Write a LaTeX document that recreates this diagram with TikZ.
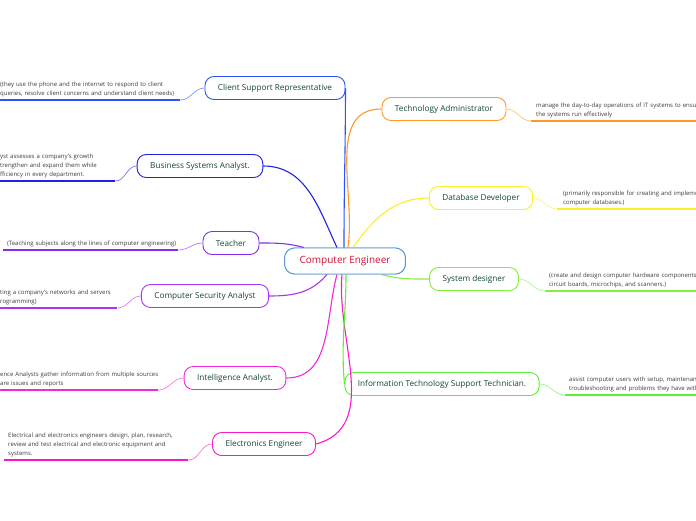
\documentclass[tikz,border=0pt]{standalone}
\usepackage{fontspec}
\setmainfont{Open Sans}
\usepackage{xcolor}
\definecolor{inkgreen}{RGB}{20,72,52}
\definecolor{rootred}{RGB}{212,20,52}
\definecolor{rootblue}{RGB}{84,152,212}
\definecolor{clientc}{RGB}{44,84,250}
\definecolor{bsac}{RGB}{32,32,232}
\definecolor{teachc}{RGB}{132,44,240}
\definecolor{secc}{RGB}{172,52,240}
\definecolor{intelc}{RGB}{240,40,222}
\definecolor{elecc}{RGB}{250,24,204}
\definecolor{adminc}{RGB}{255,152,40}
\definecolor{dbc}{RGB}{250,240,40}
\definecolor{sysc}{RGB}{132,240,60}
\definecolor{itsc}{RGB}{92,240,52}
\definecolor{notegray}{RGB}{60,60,60}
\usetikzlibrary{positioning, calc}

\begin{document}
\begin{tikzpicture}[x=1pt, y=-1pt,
  root/.style={draw=rootblue, line width=0.9pt, rounded corners=10pt, fill=white,
               minimum height=26pt, inner xsep=15pt, text=rootred,
               font=\fontsize{10}{12}\selectfont},
  role/.style={draw=#1, line width=0.9pt, rounded corners=9pt, fill=white,
               minimum height=23pt, inner xsep=13pt, text=inkgreen,
               font=\fontsize{8.2}{10}\selectfont},
  note/.style={align=left, text=notegray, inner xsep=2pt, inner ysep=3pt,
               font=\fontsize{6}{8.8}\selectfont},
  branch/.style={draw=#1, line width=1.1pt},
  under/.style={draw=#1, line width=1.8pt},
  twig/.style={draw=#1!60, line width=0.7pt},
]
  \useasboundingbox (0,0) rectangle (696,520);
  \clip (0,0) rectangle (696,520);

  % centre and roles
  \node[root] (engineer) at (345,261) {Computer Engineer};

  \node[role=clientc] (client) at (275,88) {Client Support Representative};
  \node[role=bsac] (bsa) at (200,166) {Business Systems Analyst.};
  \node[role=teachc] (teacher) at (231,243) {Teacher};
  \node[role=secc] (security) at (205,296) {Computer Security Analyst};
  \node[role=intelc] (intel) at (235,378) {Intelligence Analyst.};
  \node[role=elecc] (electro) at (264,444) {Electronics Engineer};

  \node[role=adminc] (admin) at (444,109) {Technology Administrator};
  \node[role=dbc] (dbdev) at (481,198) {Database Developer};
  \node[role=sysc] (sysdes) at (474,279) {System designer};
  \node[role=itsc] (itsupport) at (442,384) {Information Technology Support Technician.};

  % notes
  \node[note, anchor=south west, text width=178pt] (clientnote) at (-2,100)
    {\mbox{(they use the phone and the internet to respond to client}\\
     \mbox{queries, resolve client concerns and understand client needs)}};
  \node[note, anchor=south west, text width=113pt] (bsanote) at (-2,181)
    {\mbox{yst assesses a company's growth}\\
     \mbox{trengthen and expand them while}\\
     \mbox{fficiency in every department.}};
  \node[note, anchor=south west, text width=171pt] (teachnote) at (3,250)
    {\mbox{\hspace*{2pt}(Teaching subjects along the lines of computer engineering)}};
  \node[note, anchor=south west, text width=115pt] (secnote) at (-2,308)
    {\mbox{ting a company's networks and servers}\\
     \mbox{rogramming)}};
  \node[note, anchor=south west, text width=156pt] (intelnote) at (-2,390)
    {\mbox{ence Analysts gather information from multiple sources}\\
     \mbox{are issues and reports}};
  \node[note, anchor=south west, text width=180pt] (electronote) at (4,460)
    {\mbox{\hspace*{2pt}Electrical and electronics engineers design, plan, research,}\\
     \mbox{\hspace*{2pt}review and test electrical and electronic equipment and}\\
     \mbox{\hspace*{2pt}systems.}};

  \node[note, anchor=south west, text width=200pt] (adminnote) at (531,121)
    {\mbox{\hspace*{3pt}manage the day-to-day operations of IT systems to ensure}\\
     \mbox{\hspace*{3pt}the systems run effectively}};
  \node[note, anchor=south west, text width=200pt] (dbnote) at (557,209)
    {\mbox{\hspace*{4pt}(primarily responsible for creating and implementing}\\
     \mbox{\hspace*{4pt}computer databases.)}};
  \node[note, anchor=south west, text width=200pt] (sysnote) at (545,291)
    {\mbox{\hspace*{2pt}(create and design computer hardware components,}\\
     \mbox{\hspace*{2pt}circuit boards, microchips, and scanners.)}};
  \node[note, anchor=south west, text width=200pt] (itsnote) at (565,395)
    {\mbox{\hspace*{2pt}assist computer users with setup, maintenance}\\
     \mbox{\hspace*{2pt}troubleshooting and problems they have with}};

  % branches
  \draw[branch=clientc] (client.east) to[out=-90, in=90] ([xshift=-1pt]engineer.north);
  \draw[branch=bsac] (bsa.east) to[out=0, in=115] ([xshift=-8pt]engineer.north);
  \draw[branch=teachc] (teacher.east) to[out=0, in=165] ([xshift=20pt]engineer.north west);
  \draw[branch=secc] (security.east) to[out=0, in=-130] ([xshift=-18pt]engineer.south);
  \draw[branch=intelc] (intel.east) to[out=0, in=-105] ([xshift=-8pt]engineer.south);
  \draw[branch=elecc] (electro.east) to[out=15, in=-95] ([xshift=-3pt]engineer.south);
  \draw[branch=adminc] (admin.west) to[out=180, in=82] ([xshift=3pt]engineer.north);
  \draw[branch=dbc] (dbdev.west) to[out=180, in=55] ([xshift=8pt]engineer.north);
  \draw[branch=sysc] (sysdes.west) to[out=180, in=-15] ([xshift=-25pt]engineer.south east);
  \draw[branch=itsc] ([xshift=1pt]engineer.south) to[out=-90, in=95] (itsupport.west);

  % underlines
  \foreach \n/\c in {clientnote/clientc, bsanote/bsac, teachnote/teachc,
                     secnote/secc, intelnote/intelc, electronote/elecc,
                     adminnote/adminc, dbnote/dbc, sysnote/sysc, itsnote/itsc}
    \draw[under=\c] (\n.south west) -- (\n.south east);

  \draw[twig=clientc] (clientnote.south east) to[out=0, in=180] (client.west);
  \draw[twig=bsac] (bsanote.south east) to[out=0, in=180] (bsa.west);
  \draw[twig=teachc] (teachnote.south east) to[out=0, in=180] (teacher.west);
  \draw[twig=secc] (secnote.south east) to[out=0, in=180] (security.west);
  \draw[twig=intelc] (intelnote.south east) to[out=0, in=180] (intel.west);
  \draw[twig=elecc] (electronote.south east) to[out=0, in=180] (electro.west);
  \draw[twig=adminc] (admin.east) to[out=0, in=180] (adminnote.south west);
  \draw[twig=dbc] (dbdev.east) to[out=0, in=180] (dbnote.south west);
  \draw[twig=sysc] (sysdes.east) to[out=0, in=180] (sysnote.south west);
  \draw[twig=itsc] (itsupport.east) to[out=0, in=180] (itsnote.south west);

  % boxes over the branch ends
  \node[root] at (engineer) {Computer Engineer};
\end{tikzpicture}
\end{document}
